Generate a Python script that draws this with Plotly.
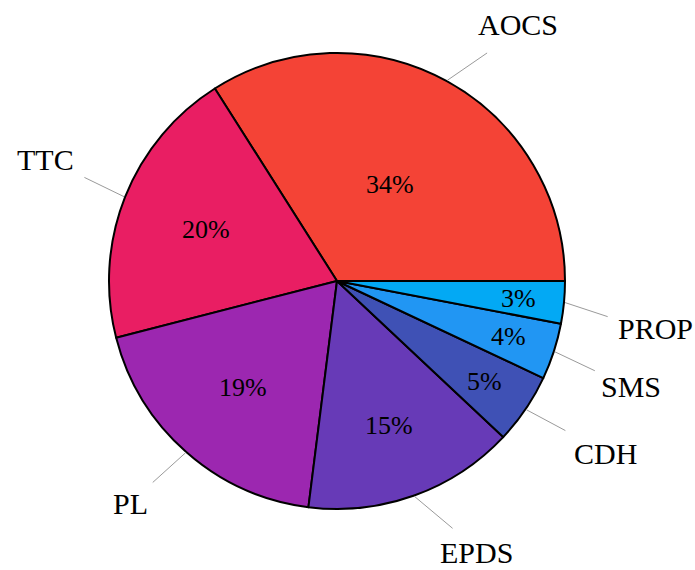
import math
import plotly.graph_objects as go

# Subsystem shares (percent of total)
subsystems = ["AOCS", "TTC", "PL", "EPDS", "CDH", "SMS", "PROP"]
shares = [34, 20, 19, 15, 5, 4, 3]
slice_colors = ["#F44336", "#E91E63", "#9C27B0", "#673AB7", "#3F51B5", "#2196F3", "#03A9F4"]

# Outside label placement: angular nudge (deg) and distance beyond the rim (px)
label_nudge = [-6.5, -1.0, -1.5, 7.5, 1.4, -1.7, -3.0]
label_gap = [86, 88, 76, 77, 91, 84, 94]
# Distance of the percentage text from the centre (px)
pct_radius = [110, 141, 142, 154, 178, 180, 182]

W, H = 695, 570
CX, CY, R = 337, 281, 228  # pie centre and radius in pixels

total = sum(shares)
# counter-clockwise layout beginning at 3 o'clock with the first slice
first_span = 360.0 * shares[0] / total

fig = go.Figure(go.Pie(
    labels=subsystems,
    values=shares,
    sort=False,
    direction="counterclockwise",
    rotation=90 - first_span,
    marker=dict(colors=slice_colors, line=dict(color="black", width=2)),
    textinfo="none",
    showlegend=False,
    hoverinfo="label+percent",
    domain=dict(x=[(CX - R) / W, (CX + R) / W],
                y=[(H - CY - R) / H, (H - CY + R) / H]),
))


def to_paper(r, deg):
    a = math.radians(deg)
    px = CX + r * math.cos(a)
    py = CY - r * math.sin(a)
    return px / W, 1 - py / H


start = 0.0
shapes, annotations = [], []
for name, v, nudge, gap, pr in zip(subsystems, shares, label_nudge, label_gap, pct_radius):
    span = 360.0 * v / total
    mid = start + span / 2
    start += span
    # leader line
    x0, y0 = to_paper(R + 1, mid)
    x1, y1 = to_paper(R + 45, mid + nudge * 0.7)
    shapes.append(dict(type="line", xref="paper", yref="paper",
                       x0=x0, y0=y0, x1=x1, y1=y1,
                       line=dict(color="#9a9a9a", width=1)))
    # outside category label
    lx, ly = to_paper(R + gap, mid + nudge)
    annotations.append(dict(text=name, x=lx, y=ly, xref="paper", yref="paper",
                            xanchor="center", yanchor="middle", showarrow=False,
                            font=dict(family="Liberation Serif", size=30, color="black")))
    # percentage inside the slice
    tx, ty = to_paper(pr, mid)
    annotations.append(dict(text=f"{round(100 * v / total)}%", x=tx, y=ty,
                            xref="paper", yref="paper",
                            xanchor="center", yanchor="middle", showarrow=False,
                            font=dict(family="Liberation Serif", size=26, color="black")))

fig.update_layout(
    width=W, height=H,
    margin=dict(l=0, r=0, t=0, b=0),
    paper_bgcolor="white",
    plot_bgcolor="white",
    shapes=shapes,
    annotations=annotations,
)

fig.write_html("out.html")
